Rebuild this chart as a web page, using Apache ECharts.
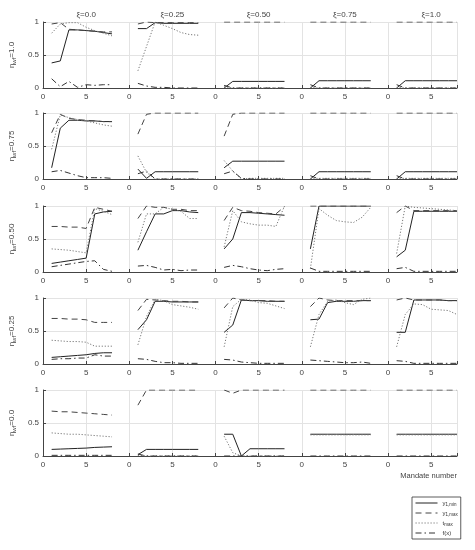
<!DOCTYPE html>
<html>
<head>
<meta charset="utf-8">
<script src="https://cdn.jsdelivr.net/npm/echarts@6/dist/echarts.min.js"></script>
<style>html,body{margin:0;padding:0;background:#fff}#c{width:475px;height:550px}</style>
</head>
<body>
<div id="c"></div>
<script>
// ---------- categories / labels ----------
const xiLabels = ['ξ=0.0', 'ξ=0.25', 'ξ=0.50', 'ξ=0.75', 'ξ=1.0'];
const etaLabels = ['1.0', '0.75', '0.50', '0.25', '0.0'];
const mandateNumbers = [1, 2, 3, 4, 5, 6, 7, 8];
const xTickLabels = ['0', '5'];
const seriesNames = ['y1,min', 'y1,max', 'tmax', 'f(x)'];

// ---------- values: each array = 5 panels (ξ) × 8 mandates ----------
// η_wf = 1.0
const ymin_e100 = [
  [0.38,0.41,0.88,0.88,0.87,0.86,0.84,0.82],
  [0.90,0.90,0.99,0.98,0.98,0.98,0.98,0.98],
  [0.00,0.10,0.10,0.10,0.10,0.10,0.10,0.10],
  [0.00,0.11,0.11,0.11,0.11,0.11,0.11,0.11],
  [0.00,0.11,0.11,0.11,0.11,0.11,0.11,0.11]];
const ymax_e100 = [
  [0.97,0.99,0.89,0.88,0.87,0.86,0.85,0.85],
  [0.97,1.00,0.99,0.99,0.99,0.99,0.99,0.99],
  [1,1,1,1,1,1,1,1],
  [1,1,1,1,1,1,1,1],
  [1,1,1,1,1,1,1,1]];
const tmax_e100 = [
  [0.83,0.97,0.99,0.99,0.92,0.87,0.83,0.79],
  [0.26,0.63,1.00,0.95,0.90,0.84,0.81,0.80],
  [0.02,0,0,0,0,0,0,0],
  [0.01,0,0,0,0,0,0,0],
  [0.01,0,0,0,0,0,0,0]];
const fx_e100 = [
  [0.14,0.02,0.10,0.01,0.05,0.04,0.05,0.05],
  [0.07,0.03,0.01,0.01,0.00,0.00,0.00,0.00],
  [0.04,0,0,0,0,0,0,0],
  [0.05,0,0,0,0,0,0,0],
  [0.05,0,0,0,0,0,0,0]];
// η_wf = 0.75
const ymin_e075 = [
  [0.17,0.77,0.89,0.89,0.88,0.88,0.87,0.87],
  [0.15,0.01,0.11,0.11,0.11,0.11,0.11,0.11],
  [0.17,0.27,0.27,0.27,0.27,0.27,0.27,0.27],
  [0.00,0.11,0.11,0.11,0.11,0.11,0.11,0.11],
  [0.00,0.11,0.11,0.11,0.11,0.11,0.11,0.11]];
const ymax_e075 = [
  [0.70,0.98,0.92,0.90,0.89,0.88,0.87,0.87],
  [0.68,0.98,1,1,1,1,1,1],
  [0.65,0.98,1,1,1,1,1,1],
  [1,1,1,1,1,1,1,1],
  [1,1,1,1,1,1,1,1]];
const tmax_e075 = [
  [0.45,0.97,0.93,0.90,0.88,0.85,0.82,0.80],
  [0.35,0.10,0.00,0,0,0,0,0],
  [0.28,0.12,0.00,0.01,0.01,0.01,0.01,0.01],
  [0.01,0.01,0.01,0.01,0.01,0.01,0.01,0.01],
  [0.01,0.01,0.01,0.01,0.01,0.01,0.01,0.01]];
const fx_e075 = [
  [0.11,0.13,0.09,0.05,0.02,0.02,0.02,0.01],
  [0.08,0.12,0.00,0,0,0,0,0],
  [0.08,0.12,0.01,0,0,0,0,0],
  [0.05,0,0,0,0,0,0,0],
  [0.05,0,0,0,0,0,0,0]];
// η_wf = 0.50
const ymin_e050 = [
  [0.13,0.15,0.17,0.19,0.21,0.88,0.91,0.92],
  [0.33,0.61,0.88,0.88,0.93,0.93,0.91,0.90],
  [0.35,0.50,0.90,0.90,0.89,0.88,0.87,0.86],
  [0.35,1.00,1.00,1.00,1.00,1.00,1.00,1.00],
  [0.23,0.33,0.92,0.92,0.92,0.92,0.92,0.92]];
const ymax_e050 = [
  [0.69,0.69,0.68,0.68,0.66,0.98,0.95,0.92],
  [0.81,1.00,0.98,0.98,0.95,0.95,0.93,0.93],
  [0.78,0.98,0.93,0.92,0.90,0.89,0.88,0.99],
  [1,1,1,1,1,1,1,1],
  [0.90,1.00,0.93,0.93,0.93,0.93,0.93,0.93]];
const tmax_e050 = [
  [0.35,0.34,0.33,0.31,0.29,0.96,0.92,0.87],
  [0.45,0.88,0.88,0.98,0.95,0.92,0.81,0.81],
  [0.38,0.93,0.76,0.73,0.71,0.71,0.69,1.00],
  [0.05,0.96,0.86,0.78,0.76,0.75,0.83,0.98],
  [0.28,1.00,0.98,0.97,0.96,0.95,0.94,0.93]];
const fx_e050 = [
  [0.08,0.10,0.12,0.14,0.16,0.17,0.04,0.01],
  [0.09,0.10,0.07,0.03,0.04,0.02,0.03,0.03],
  [0.07,0.10,0.08,0.05,0.03,0.02,0.04,0.05],
  [0.06,0.01,0.01,0.01,0.01,0.01,0.01,0.01],
  [0.05,0.07,0.01,0.01,0.01,0.01,0.01,0.01]];
// η_wf = 0.25
const ymin_e025 = [
  [0.10,0.11,0.12,0.13,0.14,0.16,0.17,0.17],
  [0.52,0.67,0.95,0.95,0.94,0.94,0.94,0.94],
  [0.48,0.59,0.97,0.96,0.96,0.95,0.95,0.95],
  [0.67,0.68,0.93,0.95,0.95,0.95,0.96,0.96],
  [0.48,0.48,0.97,0.97,0.97,0.97,0.96,0.96]];
const ymax_e025 = [
  [0.69,0.69,0.68,0.68,0.67,0.63,0.63,0.63],
  [0.81,0.98,0.97,0.96,0.95,0.95,0.94,0.94],
  [0.85,1.00,0.97,0.96,0.96,0.96,0.95,0.95],
  [0.87,1.00,0.97,0.96,0.96,0.96,0.96,0.96],
  [0.97,1.00,0.97,0.97,0.97,0.97,0.96,0.96]];
const tmax_e025 = [
  [0.36,0.35,0.34,0.34,0.33,0.27,0.27,0.27],
  [0.29,0.72,0.98,0.96,0.90,0.88,0.86,0.83],
  [0.26,0.87,0.98,0.97,0.93,0.92,0.88,0.84],
  [0.26,0.75,0.95,0.97,0.93,0.90,0.98,1.00],
  [0.26,0.75,0.91,0.90,0.83,0.82,0.81,0.75]];
const fx_e025 = [
  [0.07,0.08,0.08,0.09,0.09,0.14,0.12,0.12],
  [0.08,0.07,0.04,0.02,0.02,0.01,0.01,0.01],
  [0.07,0.06,0.03,0.02,0.01,0.01,0.01,0.01],
  [0.06,0.05,0.04,0.03,0.02,0.02,0.03,0.01],
  [0.05,0.04,0.01,0.01,0.01,0.01,0.01,0.01]];
// η_wf = 0.0
const ymin_e000 = [
  [0.10,0.105,0.11,0.115,0.12,0.13,0.135,0.14],
  [0.02,0.10,0.10,0.10,0.10,0.10,0.10,0.10],
  [0.33,0.33,0.00,0.11,0.11,0.11,0.11,0.11],
  [0.33,0.33,0.33,0.33,0.33,0.33,0.33,0.33],
  [0.33,0.33,0.33,0.33,0.33,0.33,0.33,0.33]];
const ymax_e000 = [
  [0.68,0.67,0.67,0.66,0.65,0.64,0.63,0.62],
  [0.77,1,1,1,1,1,1,1],
  [1.00,0.95,1,1,1,1,1,1],
  [1,1,1,1,1,1,1,1],
  [1,1,1,1,1,1,1,1]];
const tmax_e000 = [
  [0.35,0.34,0.33,0.33,0.32,0.31,0.30,0.29],
  [0.01,0,0,0,0,0,0,0],
  [0.30,0.05,0,0,0,0,0,0],
  [0.32,0.32,0.32,0.32,0.32,0.32,0.32,0.32],
  [0.32,0.32,0.32,0.32,0.32,0.32,0.32,0.32]];
const fx_e000 = [
  [0.01,0.01,0.01,0.01,0.01,0.01,0.01,0.01],
  [0.03,0,0,0,0,0,0,0],
  [0,0,0,0,0,0,0,0],
  [0,0,0,0,0,0,0,0],
  [0,0,0,0,0,0,0,0]];

const rows = [
  [ymin_e100, ymax_e100, tmax_e100, fx_e100],
  [ymin_e075, ymax_e075, tmax_e075, fx_e075],
  [ymin_e050, ymax_e050, tmax_e050, fx_e050],
  [ymin_e025, ymax_e025, tmax_e025, fx_e025],
  [ymin_e000, ymax_e000, tmax_e000, fx_e000]];

// ---------- styles ----------
const FONT = 'Liberation Sans';
const lineStyles = [
  {color: '#222', width: 1, type: 'solid'},
  {color: '#444', width: 1, type: [6, 4]},
  {color: '#777', width: 1, type: [1.2, 1.8]},
  {color: '#333', width: 1, type: [6, 3, 1.5, 3]}];
const gridTops = [22, 113, 206, 298, 390];
const gridH = 66;
const blockW = 10; // x-units per ξ block

function buildData(panels) {
  const out = [];
  panels.forEach((vals, c) => {
    vals.forEach((v, i) => out.push([c * blockW + mandateNumbers[i], v]));
    out.push([c * blockW + blockW - 1, null]);
  });
  return out;
}

const grids = [], xAxes = [], yAxes = [], series = [];
rows.forEach((row, r) => {
  grids.push({left: 29, right: 18, top: gridTops[r], height: gridH});
  xAxes.push({
    type: 'value', gridIndex: r, min: 0, max: 48, interval: 5,
    axisLine: {show: true, lineStyle: {color: '#444', width: 1}},
    axisTick: {show: true, inside: true, length: 3, lineStyle: {color: '#444'}},
    axisLabel: {fontSize: 8, color: '#444', fontFamily: FONT, margin: 5,
      formatter: v => xTickLabels[(v % 10) / 5]},
    splitLine: {show: true, lineStyle: {color: '#e3e3e3', width: 1}},
    name: r === 4 ? 'Mandate number' : '',
    nameLocation: 'end', nameGap: 0,
    nameTextStyle: {fontSize: 7.5, color: '#444', fontFamily: FONT, align: 'right', verticalAlign: 'top', padding: [16, 0, 0, 0]}
  });
  yAxes.push({
    type: 'value', gridIndex: r, min: 0, max: 1, interval: 0.5,
    axisLine: {show: true, lineStyle: {color: '#444', width: 1}},
    axisTick: {show: true, inside: true, length: 3, lineStyle: {color: '#444'}},
    axisLabel: {fontSize: 8, color: '#444', fontFamily: FONT, margin: 4,
      formatter: v => String(v)},
    splitLine: {show: true, lineStyle: {color: '#e3e3e3', width: 1}},
    name: '{e|η}{s|wf}{e|=' + etaLabels[r] + '}',
    nameLocation: 'middle', nameRotate: 90, nameGap: 16,
    nameTextStyle: {fontSize: 8, color: '#444', fontFamily: FONT,
      rich: {e: {fontSize: 8, color: '#444', fontFamily: FONT},
             s: {fontSize: 6, color: '#444', fontFamily: FONT, verticalAlign: 'bottom', padding: [4, 0, 0, 0]}}}
  });
  row.forEach((panels, k) => {
    series.push({
      type: 'line', name: seriesNames[k], xAxisIndex: r, yAxisIndex: r,
      data: buildData(panels), symbol: 'none', connectNulls: false,
      lineStyle: lineStyles[k], itemStyle: {color: lineStyles[k].color},
      silent: true, animation: false
    });
  });
});
// top axis carrying the ξ titles
xAxes.push({
  type: 'value', gridIndex: 0, position: 'top', min: 0, max: 48,
  axisLine: {show: false}, axisTick: {show: false}, splitLine: {show: false},
  axisLabel: {show: true, fontSize: 8, color: '#444', fontFamily: FONT, margin: 3,
    customValues: xiLabels.map((_, i) => i * blockW + 5),
    formatter: v => xiLabels[Math.round((v - 5) / blockW)]}
});

const legendRich = {
  n: {fontSize: 6, color: '#333', fontFamily: FONT},
  s: {fontSize: 4.5, color: '#333', fontFamily: FONT, padding: [3, 0, 0, 0]}
};
const legendText = {
  'y1,min': '{n|y}{s|1,min}',
  'y1,max': '{n|y}{s|1,max}',
  'tmax': '{n|t}{s|max}',
  'f(x)': '{n|f(x)}'
};

const chart = echarts.init(document.getElementById('c'), null, {renderer: 'canvas'});
chart.setOption({
  animation: false,
  backgroundColor: '#fff',
  grid: grids, xAxis: xAxes, yAxis: yAxes, series: series,
  legend: {
    show: true,
    data: seriesNames, orient: 'vertical', left: 412, top: 497,
    itemWidth: 22, itemHeight: 6, itemGap: 3, padding: [3, 3, 3, 3],
    borderColor: '#333', borderWidth: 0.8, backgroundColor: '#fff',
    itemStyle: {opacity: 0},
    lineStyle: {width: 1},
    textStyle: {fontSize: 6, color: '#333', fontFamily: FONT, rich: legendRich},
    formatter: name => legendText[name]
  }
});
</script>
</body>
</html>
